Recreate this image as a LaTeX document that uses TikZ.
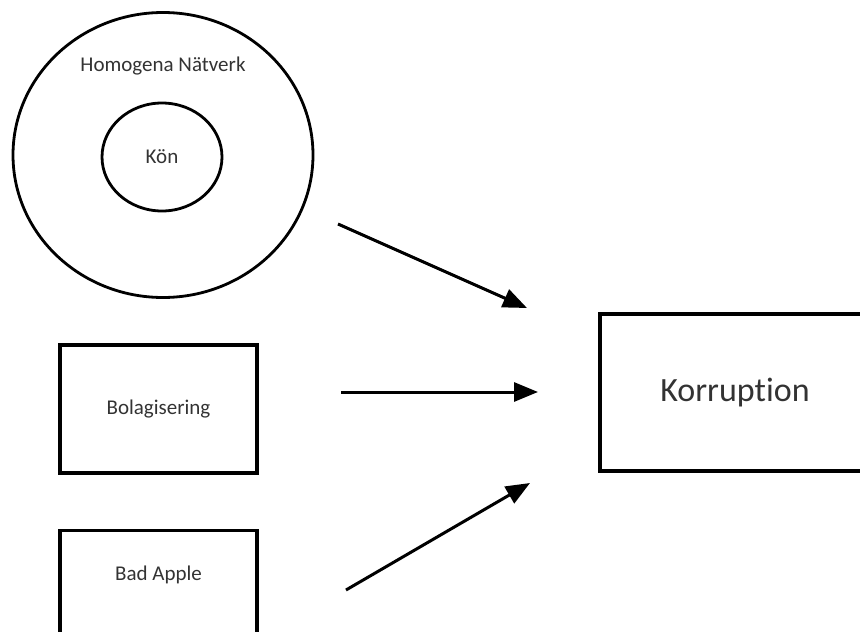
\documentclass[tikz,border=0pt]{standalone}
\usepackage{fontspec}
\setmainfont{Carlito}[Ligatures=NoCommon]
\usetikzlibrary{arrows.meta,shapes.geometric,positioning,calc}
\tikzset{
    ring/.style={
        ellipse,
        line width=2.8pt,
        draw=black,
    },
    box/.style={
        rectangle,
        line width=3.2pt,
        draw=black,
        minimum width=197pt,
        minimum height=128pt,
    },
    txt/.style={
        text=black!80,
        font=\fontsize{21}{25}\selectfont,
    },
    flow/.style={
        ->,
        line width=3pt,
    },
}

\begin{document}
\begin{tikzpicture}[x=1pt,y=-1pt,>={Triangle[length=24pt,width=19pt]}]
    \useasboundingbox (0,0) rectangle (860,632);
    \node [ring,minimum width=300pt,minimum height=285pt] (outer) at (163,155) {};
    \node [txt] (homtext) at (163,66) {Homogena Nätverk};
    \node [ring,minimum width=120pt,minimum height=108pt,txt] (kon) at (162,157) {Kön};

    \node [box,txt] (bolag) at (158.5,409) {Bolagisering};
    \node [box,anchor=north] (badapple) at (158.5,529) {};
    \node [txt] (badtext) at ($(badapple.north)+(0,46)$) {Bad Apple};

    \node [box,minimum width=270pt,minimum height=157pt,txt,font=\fontsize{34}{40}\selectfont] (korr) at (735,392.5) {Korruption};

    % free arrow ends
    \coordinate (a1s) at (338,224);
    \coordinate (a1e) at (527,308);
    \coordinate (a2s) at (341,392);
    \coordinate (a2e) at (538,392);
    \coordinate (a3s) at (346,590);
    \coordinate (a3e) at (530,483);

    \draw [flow] (a1s) -- (a1e);
    \draw [flow] (a2s) -- (a2e);
    \draw [flow] (a3s) -- (a3e);
\end{tikzpicture}
\end{document}
